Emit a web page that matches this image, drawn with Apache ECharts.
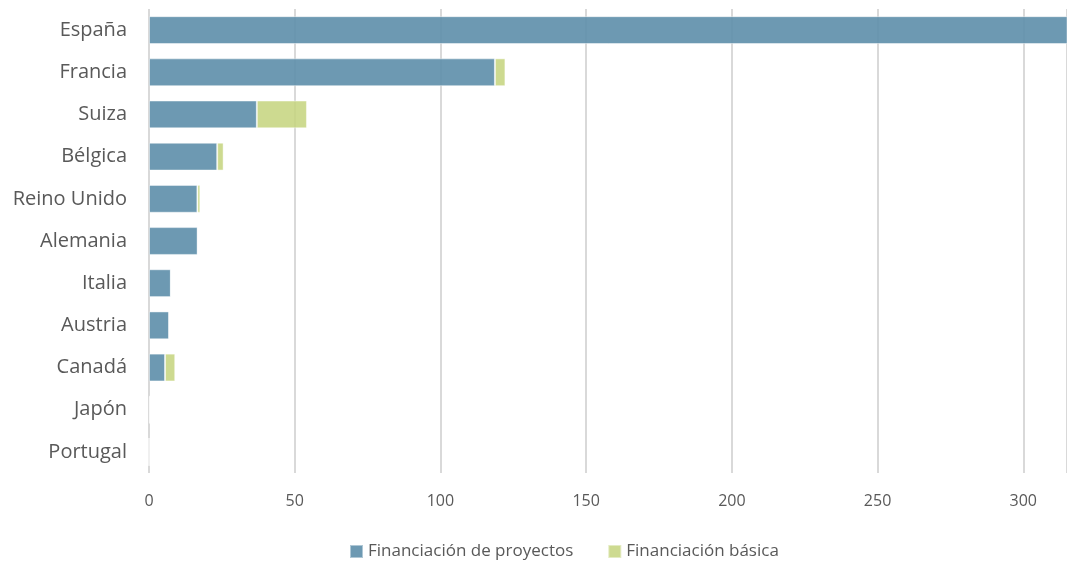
<!DOCTYPE html>
<html><head><meta charset="utf-8">
<script src="https://cdn.jsdelivr.net/npm/echarts@6/dist/echarts.min.js"></script>
<style>html,body{margin:0;padding:0;background:#fff}#c{width:1067px;height:561px}</style>
</head><body><div id="c"></div>
<script>
const categories = ["España","Francia","Suiza","Bélgica","Reino Unido","Alemania","Italia","Austria","Canadá","Japón","Portugal"];
const proyectos = [330, 118.7, 37.0, 23.4, 16.6, 16.7, 7.5, 6.9, 5.5, 0.3, 0];
const basica = [0, 3.6, 17.2, 2.2, 1.0, 0, 0, 0, 3.5, 0, 0];
const seriesNames = ["Financiación de proyectos","Financiación básica"];
const xTicks = {min: 0, max: 315, interval: 50};

const chart = echarts.init(document.getElementById('c'));
const font = '"Open Sans", "Noto Sans", sans-serif';
chart.setOption({
  animation: false,
  textStyle: {fontFamily: font},
  grid: {left: 149, right: 0, top: 9, bottom: 88, containLabel: false},
  legend: {
    top: 538, left: 344, itemWidth: 13, itemHeight: 13, itemGap: 34,
    icon: 'rect',
    textStyle: {fontFamily: font, fontSize: 17, color: '#595959'},
    data: seriesNames
  },
  xAxis: {
    type: 'value', min: xTicks.min, max: xTicks.max, interval: xTicks.interval,
    axisLine: {show: false}, axisTick: {show: false},
    axisLabel: {color: '#595959', fontSize: 16, margin: 20, fontFamily: font,
      showMaxLabel: false},
    splitLine: {show: true, lineStyle: {color: '#d9d9d9', width: 2}}
  },
  yAxis: {
    type: 'category', data: categories, inverse: true,
    axisLine: {show: false}, axisTick: {show: false},
    axisLabel: {color: '#595959', fontSize: 20, margin: 22, fontFamily: font}
  },
  series: [
    {name: seriesNames[0], type: 'bar', stack: 'a', data: proyectos, barWidth: '66%',
     itemStyle: {color: 'rgba(93,142,170,0.9)', borderColor: 'rgba(255,255,255,0.45)', borderWidth: 1}},
    {name: seriesNames[1], type: 'bar', stack: 'a', data: basica, barWidth: '66%',
     itemStyle: {color: 'rgba(196,212,124,0.85)', borderColor: 'rgba(255,255,255,0.45)', borderWidth: 1}}
  ]
});
</script></body></html>
